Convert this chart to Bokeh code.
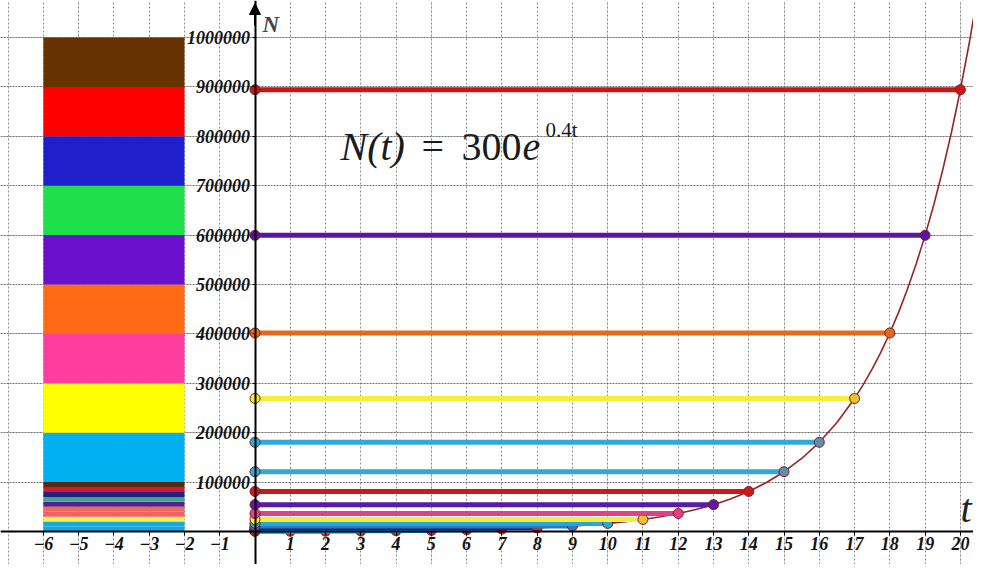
from bokeh.plotting import figure
from bokeh.models import (LinearAxis, FixedTicker, SingleIntervalTicker, Range1d, Label,
                          Arrow, NormalHead, Grid)
from bokeh.embed import file_html
from bokeh.resources import INLINE

# ---------------- data ----------------
t_ticks = [-6, -5, -4, -3, -2, -1, 1, 2, 3, 4, 5, 6, 7, 8, 9, 10, 11, 12, 13, 14, 15, 16, 17, 18, 19, 20]
n_ticks = [100000, 200000, 300000, 400000, 500000, 600000, 700000, 800000, 900000, 1000000]
n_tick_labels = ["100000", "200000", "300000", "400000", "500000",
                 "600000", "700000", "800000", "900000", "1000000"]

steps = [1, 2, 3, 4, 5, 6, 7, 8, 9, 10, 11, 12, 13, 14, 15, 16, 17, 18, 19, 20]
levels = [448, 668, 996, 1486, 2217, 3307, 4934, 7360, 10979, 16379, 24435, 36453,
          54382, 81128, 121029, 180554, 269354, 401826, 599459, 894287]
line_colors = ["#1e9fdc", "#1e9fdc", "#1e9fdc", "#1e9fdc", "#1e9fdc", "#1e9fdc", "#1e9fdc",
               "#1c1f7a", "#2b78c2", "#27a6dc", "#f2ef3a", "#e0408a", "#5b1aa8", "#cc1a1a",
               "#30a8d8", "#30a8d8", "#f5ef3c", "#e06a20", "#5c14a8", "#cc1515"]
end_colors = ["#cc2222", "#cc2222", "#cc2222", "#cc2222", "#cc2222", "#cc2222", "#cc2222",
              "#cc2222", "#2b78c2", "#27a6dc", "#f0c030", "#e0408a", "#5b1aa8", "#cc1a1a",
              "#5a8fb0", "#5a8fb0", "#f0c030", "#e06a20", "#5c14a8", "#cc1515"]

curve_t = [0, 0.5, 1, 1.5, 2, 2.5, 3, 3.5, 4, 4.5, 5, 5.5, 6, 6.5, 7, 7.5, 8, 8.5, 9, 9.5,
           10, 10.5, 11, 11.5, 12, 12.5, 13, 13.5, 14, 14.5, 15, 15.5, 16, 16.5, 17, 17.25,
           17.5, 17.75, 18, 18.25, 18.5, 18.75, 19, 19.25, 19.5, 19.75, 20, 20.25, 20.5]
curve_n = [300, 366, 448, 547, 668, 815, 996, 1217, 1486, 1815, 2217, 2708, 3307, 4039,
           4934, 6026, 7360, 8989, 10979, 13410, 16379, 20006, 24435, 29845, 36453, 44524,
           54382, 66423, 81128, 99090, 121029, 147825, 180554, 220529, 269354, 297682,
           328992, 363592, 401826, 444086, 490790, 542407, 599459, 662504, 732178, 809181,
           894287, 988339, 1092300]

bar_t_left = -6
bar_t_right = -2
big_bottoms = [100000, 200000, 300000, 400000, 500000, 600000, 700000, 800000, 900000]
big_tops = [200000, 300000, 400000, 500000, 600000, 700000, 800000, 900000, 1000000]
big_colors = ["#00b0f0", "#ffff00", "#ff3d9e", "#ff6a12", "#6a0fcc", "#1fe04a", "#1f1fcc",
              "#ff0000", "#663300"]
small_bottoms = [0, 10000, 20000, 30000, 40000, 50000, 60000, 70000, 80000, 90000]
small_tops = [10000, 20000, 30000, 40000, 50000, 60000, 70000, 80000, 90000, 100000]
small_colors = ["#12a8e6", "#12a8e6", "#f6f24a", "#f0606a", "#f26a50", "#5b1f8a", "#3aa890",
                "#22207a", "#d0183a", "#5a2a10"]

# ---------------- geometry (pixels) ----------------
X0, SX = 254.5, 35.27
Y0, SY = 531.0, 49.4 / 100000
W, H = 973, 564


def xd(px):
    return (px - X0) / SX


def yd(py):
    return (Y0 - py) / SY


p = figure(width=W, height=H,
           x_range=Range1d(xd(0), xd(W)),
           y_range=Range1d(yd(H), yd(0)),
           output_backend="svg", toolbar_location=None,
           x_axis_location=None, y_axis_location=None, min_border=0)
p.outline_line_color = None
p.background_fill_color = "white"
p.border_fill_color = "white"

vgrid = Grid(dimension=0, ticker=SingleIntervalTicker(interval=1),
             grid_line_color="#8c8c8c", grid_line_dash="2 2", grid_line_width=1)
hgrid = Grid(dimension=1, ticker=SingleIntervalTicker(interval=100000),
             grid_line_color="#707070", grid_line_dash="2 1", grid_line_width=1)
p.add_layout(vgrid)
p.add_layout(hgrid)

# stacked colour bar
p.quad(left=[bar_t_left] * len(big_bottoms), right=[bar_t_right] * len(big_bottoms),
       bottom=big_bottoms, top=big_tops, fill_color=big_colors, line_color=None)
p.quad(left=[bar_t_left] * len(small_bottoms), right=[bar_t_right] * len(small_bottoms),
       bottom=small_bottoms, top=small_tops, fill_color=small_colors, line_color=None)

# curve
p.line(curve_t, curve_n, line_color="#9a2424", line_width=1.6)

# horizontal level lines with markers
for k in range(len(steps)):
    t = steps[k]
    n = levels[k]
    p.line([0, t], [n, n], line_color=line_colors[k], line_width=5)
    p.scatter([0, t], [n, n], size=10, marker="circle",
              fill_color=[line_colors[k], end_colors[k]], line_color="#7a1f1f", line_width=1)

# axes through the origin
font = "Liberation Serif"
xaxis = LinearAxis(fixed_location=0, ticker=FixedTicker(ticks=t_ticks),
                   axis_line_width=2, axis_line_color="black",
                   major_tick_in=0, major_tick_out=4, minor_tick_out=0, minor_tick_in=0,
                   major_tick_line_color="black",
                   major_label_text_font=font, major_label_text_font_style="bold italic",
                   major_label_text_font_size="18px", major_label_standoff=1,
                   major_label_text_color="#111111")
yaxis = LinearAxis(fixed_location=0, ticker=FixedTicker(ticks=n_ticks),
                   axis_line_width=2, axis_line_color="black",
                   major_tick_in=0, major_tick_out=3, minor_tick_out=0, minor_tick_in=0,
                   major_tick_line_color="black",
                   major_label_overrides={v: s for v, s in zip(n_ticks, n_tick_labels)},
                   major_label_text_font=font, major_label_text_font_style="bold italic",
                   major_label_text_font_size="18px", major_label_standoff=2,
                   major_label_text_color="#111111")
p.add_layout(xaxis, "below")
p.add_layout(yaxis, "left")

p.add_layout(Arrow(end=NormalHead(size=11, fill_color="black", line_color="black"),
                   x_start=0, y_start=yd(25), x_end=0, y_end=yd(3),
                   line_width=2, line_color="black"))

p.add_layout(Label(x=xd(262), y=yd(24), text="N", text_font=font,
                   text_font_style="bold italic", text_font_size="23px",
                   text_baseline="alphabetic"))
p.add_layout(Label(x=xd(960), y=yd(508), text="t", text_font=font,
                   text_font_style="italic", text_font_size="40px",
                   text_baseline="alphabetic", text_color="#222222"))

# formula
fc = "#1a1a1a"
p.add_layout(Label(x=xd(340), y=yd(146), text="N(t)", text_font=font,
                   text_font_style="italic", text_font_size="40px",
                   text_baseline="alphabetic", text_color=fc))
p.add_layout(Label(x=xd(421), y=yd(146), text="=", text_font=font,
                   text_font_size="40px", text_baseline="alphabetic", text_color=fc))
p.add_layout(Label(x=xd(461), y=yd(146), text="300", text_font=font,
                   text_font_size="40px", text_baseline="alphabetic", text_color=fc))
p.add_layout(Label(x=xd(522), y=yd(146), text="e", text_font=font,
                   text_font_style="italic", text_font_size="40px",
                   text_baseline="alphabetic", text_color=fc))
p.add_layout(Label(x=xd(545), y=yd(129), text="0.4t", text_font=font,
                   text_font_size="21px", text_baseline="alphabetic", text_color=fc))

open("out.html", "w").write(file_html(p, INLINE))
